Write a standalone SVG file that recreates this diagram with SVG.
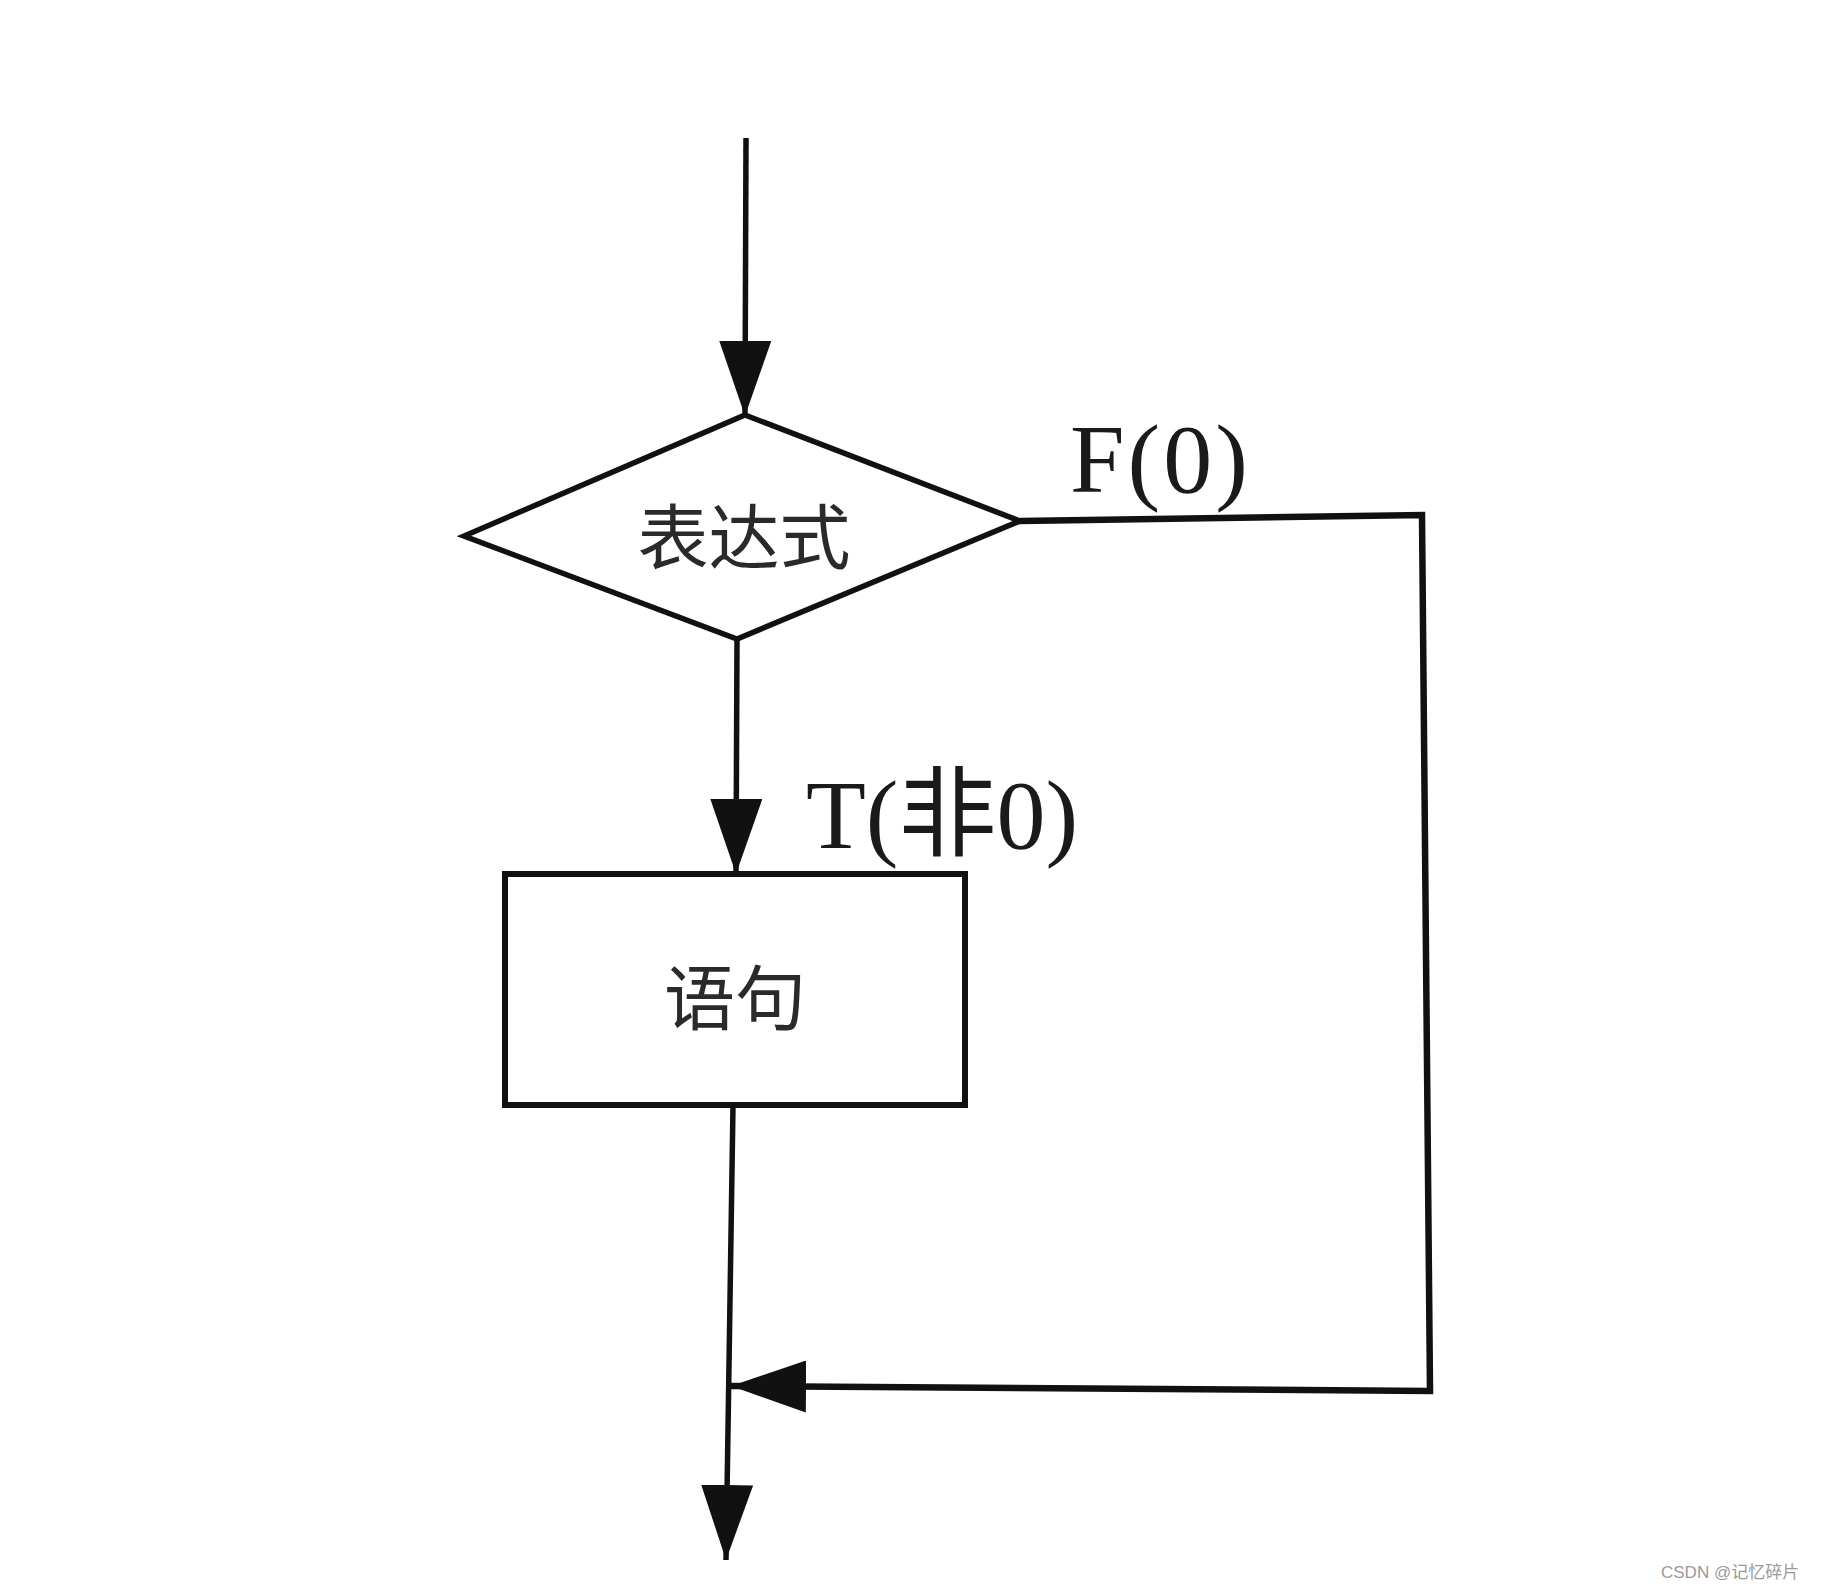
<svg xmlns="http://www.w3.org/2000/svg" width="1828" height="1592" viewBox="0 0 1828 1592">
<style>
.ln{fill:none;stroke:#111;stroke-width:5.5;stroke-linejoin:miter}
.shape{fill:#fff;stroke:#111;stroke-width:5.5;stroke-linejoin:miter}
.cn{font-family:"Noto Sans CJK SC","Noto Sans",sans-serif;font-size:71px;fill:#2a2a2a;text-anchor:middle;dominant-baseline:central}
.lbl{font-family:"Liberation Serif","Noto Sans CJK SC",serif;font-size:98px;fill:#1a1a1a}
.wm{font-family:"Liberation Sans","Noto Sans CJK SC",sans-serif;font-size:17px;fill:#9a9a9a}
</style>
<defs>
<marker id="arr" viewBox="0 0 75 52" refX="75" refY="26" markerWidth="75" markerHeight="52" orient="auto" markerUnits="userSpaceOnUse">
<path d="M0,0 L75,26 L0,52 Z" fill="#111"/>
</marker>
</defs>
<rect x="0" y="0" width="1828" height="1592" fill="#fff"/>
<g id="connectors">
<path class="ln" d="M746,138 L745,416" marker-end="url(#arr)"/>
<path class="ln" d="M737,639 L736,874" marker-end="url(#arr)"/>
<path class="ln" d="M1020,521 L1422,515 L1430,1391 L731,1386" style="stroke-width:6.5" marker-end="url(#arr)"/>
<path class="ln" d="M733,1105 L726,1560" marker-end="url(#arr)"/>
<text class="lbl" x="1070" y="492" letter-spacing="3">F(0)</text>
<text class="lbl" x="806" y="848">T(非0)</text>
</g>
<g id="node-expr">
<polygon class="shape" points="745,415 1020,521 737,639 464,536"/>
<text class="cn" x="744" y="532">表达式</text>
</g>
<g id="node-stmt">
<rect class="shape" x="505" y="874" width="460" height="231" style="stroke-width:6"/>
<text class="cn" x="735" y="993">语句</text>
</g>
<text class="wm" x="1661" y="1578">CSDN @记忆碎片</text>
</svg>
